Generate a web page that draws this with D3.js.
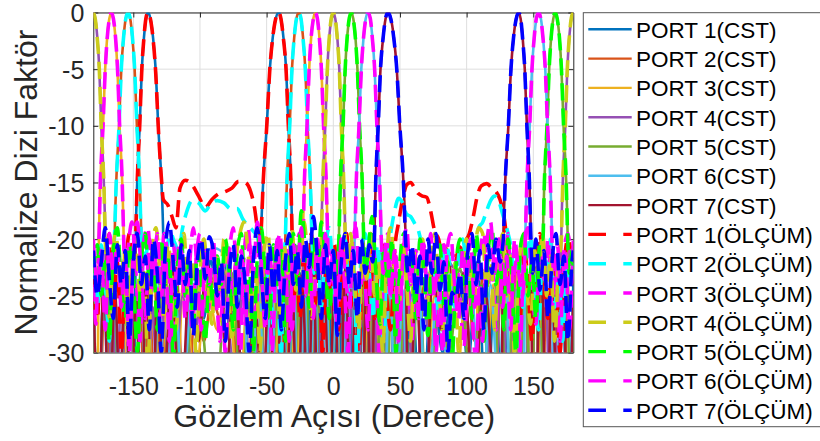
<!DOCTYPE html>
<html><head><meta charset="utf-8">
<script src="https://cdn.jsdelivr.net/npm/d3@7/dist/d3.min.js"></script>
<style>
body{margin:0;background:#fff}
svg{display:block}
text{font-family:"Liberation Sans",Arial,Helvetica,sans-serif}
</style>
</head><body>
<svg id="chart" width="820" height="441"></svg>
<script>
const xTicks = [-150,-100,-50,0,50,100,150];
const yTicks = [0,-5,-10,-15,-20,-25,-30];
const portNames = ["PORT 1","PORT 2","PORT 3","PORT 4","PORT 5","PORT 6","PORT 7"];
const cstColors = ["#0072BD","#D95319","#EDB120","#9650B4","#77AC30","#4DBEEE","#A2142F"];
const measColors = ["#FF0000","#00FFFF","#FF00FF","#CCCC1A","#00FF00","#FF00FF","#0000FF"];

const cst1 = [[-180,-24],[-176,-37],[-172,-22.5],[-168,-35],[-164,-25],[-160,-40],[-156,-23],[-149.8,-40],[-148.2,-20],[-147.1,-15],[-145.2,-10],[-143.6,-5],[-142,-2.2],[-140.5,-0.55],[-139,0],[-137.1,-0.55],[-135.2,-2.2],[-133.25,-5],[-131.3,-10],[-128.9,-15],[-127.5,-20],[-125.5,-40],[-120,-24],[-113,-36],[-105,-22.5],[-97,-27],[-92,-21.8],[-87,-25],[-82,-22],[-75,-34],[-68,-24],[-62,-38],[-56.5,-40],[-54.2,-20],[-52.6,-15],[-49.9,-10],[-47.6,-5],[-45.4,-2.2],[-43.2,-0.55],[-41,0],[-39.2,-0.55],[-37.4,-2.2],[-35.4,-5],[-33.7,-10],[-31.8,-15],[-30.8,-20],[-29,-40],[-25,-23],[-21,-37],[-17,-22],[-13,-35],[-9,-24.5],[-5,-39],[-1,-23],[3,-36],[7,-25],[11,-40],[15,-22.5],[19,-34],[23,-24],[27,-38],[31,-23],[35,-35],[39,-25.5],[43,-40],[48,-23],[53,-36],[59,-24.5],[66,-39],[74,-23],[82,-30],[89,-24.5],[95,-24.5],[101,-31],[108,-22],[115,-37],[121,-24],[127,-35],[132,-22.5],[136,-39],[140,-24],[144,-34],[148,-23],[152,-38],[156,-25],[160,-36],[164,-22.5],[168,-40],[172,-24],[176,-35],[180,-24]];
const cst2 = [[-180,-24],[-176,-38],[-171,-23],[-165.7,-40],[-164,-20],[-162.8,-15],[-160.7,-10],[-159,-5],[-157.3,-2.2],[-155.7,-0.55],[-154,0],[-152.3,-0.55],[-150.7,-2.2],[-149,-5],[-147.3,-10],[-145.2,-15],[-144,-20],[-142.3,-40],[-138,-23],[-134,-37],[-129,-25],[-124,-35],[-118,-22.5],[-111,-38],[-103,-25.5],[-97,-29],[-91,-25],[-85,-27],[-78,-22],[-70,-36],[-63,-24],[-57,-39],[-52,-23],[-47,-34],[-42,-24.5],[-37.7,-40],[-36,-20],[-34.8,-15],[-32.7,-10],[-31,-5],[-29.3,-2.2],[-27.7,-0.55],[-26,0],[-24.3,-0.55],[-22.7,-2.2],[-21,-5],[-19.3,-10],[-17.2,-15],[-16,-20],[-14.3,-40],[-10,-23],[-6,-38],[-2,-22.5],[2,-35],[6,-24],[10,-40],[14,-22],[18,-36],[22,-25],[26,-39],[30,-23.5],[34,-34],[38,-24],[42,-37],[46.5,-22.5],[51,-35],[56,-25],[62,-38],[68,-24],[75,-30],[82,-20.5],[90,-21.5],[98,-20.8],[106,-29],[113,-23],[120,-37],[126,-24.5],[131,-35],[136,-23],[140,-40],[144,-24],[148,-36],[152,-22.5],[156,-38],[160,-25],[164,-34],[168,-23],[172,-39],[176,-24],[180,-24]];
const cst3 = [[-180,-25],[-177.4,-40],[-175.8,-20],[-174.7,-15],[-172.7,-10],[-171.1,-5],[-169.6,-2.2],[-168,-0.55],[-166.5,0],[-165,-0.55],[-163.4,-2.2],[-161.9,-5],[-160.3,-10],[-158.3,-15],[-157.2,-20],[-155.6,-40],[-152,-23],[-148,-36],[-144,-24],[-139.5,-39],[-135,-22.5],[-130,-34],[-125,-25],[-119,-38],[-112,-23],[-104,-33],[-95,-24],[-87,-28],[-79,-22.5],[-71,-36],[-64,-24.5],[-58,-40],[-53,-23],[-48,-34],[-44,-25],[-40,-37],[-36,-22],[-32,-35],[-28,-24],[-24.4,-40],[-22.8,-20],[-21.7,-15],[-19.7,-10],[-18.1,-5],[-16.6,-2.2],[-15,-0.55],[-13.5,0],[-12,-0.55],[-10.4,-2.2],[-8.9,-5],[-7.3,-10],[-5.3,-15],[-4.2,-20],[-2.6,-40],[2,-23],[6,-38],[10,-22.5],[14,-36],[18,-24],[22,-40],[26,-22],[30,-35],[34,-25],[38,-38],[42,-23.5],[46.5,-34],[51,-24],[56,-39],[62,-22.5],[69,-33],[76,-25],[83,-28],[90,-38],[97,-27],[105,-22.5],[113,-35],[120,-24],[126,-37],[131,-23],[136,-34],[140,-25.5],[144,-40],[148,-23],[152,-36],[156,-24.5],[160,-38],[164,-22],[168,-35],[172,-24],[176,-39],[180,-25]];
const cst4 = [[-180,0],[-178.5,-0.55],[-177,-2.2],[-175.5,-5],[-174,-10],[-172.1,-15],[-171,-20],[-169.5,-40],[-166,-24],[-162.5,-38],[-159,-23],[-155.5,-36],[-152,-25],[-148,-40],[-144,-22.5],[-140,-35],[-135.5,-26],[-131,-38],[-126,-23],[-120,-34],[-113,-25],[-106,-31],[-97,-22],[-90,-23.5],[-83,-22.5],[-74,-32],[-67,-24],[-61,-37],[-55.5,-23],[-50.5,-35],[-46,-25.5],[-42,-40],[-38,-22],[-34,-36],[-30,-24],[-26,-38],[-22,-21.5],[-18,-34],[-14,-22.5],[-10.5,-40],[-9,-20],[-7.9,-15],[-6,-10],[-4.5,-5],[-3,-2.2],[-1.5,-0.55],[0,0],[1.5,-0.55],[3,-2.2],[4.5,-5],[6,-10],[7.9,-15],[9,-20],[10.5,-40],[14,-23],[18,-36],[22,-22],[26,-41],[30,-24.5],[34,-35],[38,-23],[42,-38],[46,-24],[50.5,-34],[55.5,-22.5],[61,-39],[67,-25],[74,-31],[83,-21.5],[90,-22.5],[97,-23],[106,-33],[113,-24],[120,-37],[126,-22.5],[131,-34],[135.5,-25],[140,-39],[144,-23],[148,-35],[152,-24],[155.5,-40],[159,-22.5],[162.5,-36],[166,-25],[169.5,-40],[171,-20],[172.1,-15],[174,-10],[175.5,-5],[177,-2.2],[178.5,-0.55],[180,0]];
const cst5 = [[-180,-27],[-176,-38],[-172,-23],[-168,-35],[-164,-24.5],[-160,-40],[-156,-22],[-152,-33],[-148,-25],[-144,-38],[-140,-23.5],[-136,-36],[-131,-26],[-126,-34],[-120,-22.5],[-113,-37],[-105,-24],[-97,-29],[-90,-40],[-83,-27],[-76,-23],[-69,-34],[-62,-24],[-56,-38],[-51,-22.5],[-46.5,-35],[-42,-25],[-38,-40],[-34,-23],[-30,-36],[-26,-24],[-22,-39],[-18,-22],[-14,-35],[-10,-23.5],[-6,-37],[-2,-22],[2.6,-40],[4.2,-20],[5.3,-15],[7.3,-10],[8.9,-5],[10.4,-2.2],[12,-0.55],[13.5,0],[15,-0.55],[16.6,-2.2],[18.1,-5],[19.7,-10],[21.7,-15],[22.8,-20],[24.4,-40],[28,-23],[32,-37],[36,-24],[40,-35],[44,-22.5],[48,-39],[53,-25],[58,-34],[64,-23],[71,-38],[79,-24.5],[87,-30],[95,-22.5],[104,-35],[112,-24],[119,-40],[125,-23],[130,-36],[135,-25],[139.5,-38],[144,-22.5],[148,-35],[152,-24],[155.6,-40],[157.2,-20],[158.3,-15],[160.3,-10],[161.9,-5],[163.4,-2.2],[165,-0.55],[166.5,0],[168,-0.55],[169.6,-2.2],[171.1,-5],[172.7,-10],[174.7,-15],[175.8,-20],[177.4,-40],[180,-27]];
const cst6 = [[-180,-25],[-176,-37],[-172,-23],[-168,-39],[-164,-24.5],[-160,-35],[-156,-22.5],[-152,-38],[-148,-25],[-144,-34],[-140,-23],[-136,-40],[-131,-24],[-126,-36],[-120,-22.5],[-113,-33],[-105,-23],[-97,-21.2],[-89,-20.8],[-81,-21.5],[-74,-27],[-68,-22.5],[-62,-37],[-56,-24],[-51,-35],[-46.5,-23],[-42,-39],[-38,-25],[-34,-34],[-30,-22.5],[-26,-38],[-22,-24],[-18,-36],[-14,-23],[-10,-40],[-6,-22],[-2,-35],[2,-24.5],[6,-38],[10,-23],[14.3,-40],[16,-20],[17.2,-15],[19.3,-10],[21,-5],[22.7,-2.2],[24.3,-0.55],[26,0],[27.7,-0.55],[29.3,-2.2],[31,-5],[32.7,-10],[34.8,-15],[36,-20],[37.7,-40],[42,-23],[47,-36],[52,-24.5],[57,-38],[63,-22.5],[70,-35],[78,-25],[85,-30],[91,-23],[97,-27],[103,-23.5],[111,-37],[118,-24],[124,-34],[129,-22.5],[134,-39],[138,-24],[142.3,-40],[144,-20],[145.2,-15],[147.3,-10],[149,-5],[150.7,-2.2],[152.3,-0.55],[154,0],[155.7,-0.55],[157.3,-2.2],[159,-5],[160.7,-10],[162.8,-15],[164,-20],[165.7,-40],[171,-24],[176,-37],[180,-25]];
const cst7 = [[-180,-25],[-176,-36],[-172,-23],[-168,-39],[-164,-24],[-160,-34],[-156,-22.5],[-152,-38],[-148,-25],[-144,-35],[-140,-23],[-136,-40],[-132,-24.5],[-127,-33],[-121,-22.5],[-115,-38],[-108,-24],[-101,-29],[-95,-22],[-90,-24],[-85,-22.5],[-80,-31],[-74,-23.5],[-66,-37],[-59,-25],[-53,-35],[-48,-22.5],[-43,-40],[-39,-24],[-35,-34],[-31,-23],[-27,-38],[-23,-24.5],[-19,-36],[-15,-22],[-11,-40],[-7,-23.5],[-3,-35],[1,-24],[5,-37],[9,-22.5],[13,-34],[17,-25],[21,-39],[25,-23],[29,-40],[30.8,-20],[31.8,-15],[33.7,-10],[35.4,-5],[37.4,-2.2],[39.2,-0.55],[41,0],[43.2,-0.55],[45.4,-2.2],[47.6,-5],[49.9,-10],[52.6,-15],[54.2,-20],[56.5,-40],[62,-24],[68,-37],[75,-23],[81,-28],[86,-21.8],[92,-26],[98,-23],[105,-35],[113,-24],[125.5,-40],[127.5,-20],[128.9,-15],[131.3,-10],[133.25,-5],[135.2,-2.2],[137.1,-0.55],[139,0],[140.5,-0.55],[142,-2.2],[143.6,-5],[145.2,-10],[147.1,-15],[148.2,-20],[149.8,-40],[156,-23],[160,-37],[164,-24],[168,-35],[172,-22.5],[176,-38],[180,-25]];

const meas1 = [[-180,-23],[-177,-27],[-174,-21],[-171,-24.5],[-168,-19.5],[-165,-26],[-162,-22],[-159,-30],[-156,-23],[-153,-19.5],[-150.5,-22],[-148.5,-20.5],[-147.1,-15],[-145.2,-10],[-143.6,-5],[-142,-2.2],[-140.5,-0.5],[-139,0],[-137.1,-0.6],[-135.2,-2.3],[-133.25,-5.2],[-131.3,-10],[-129,-14.5],[-127.5,-16.5],[-124,-17],[-121,-18],[-118,-19],[-115,-15.5],[-111,-14.8],[-106,-15.2],[-101,-16.2],[-96,-17.2],[-91,-16.5],[-86,-16],[-81,-15.8],[-76,-15.5],[-71,-14.9],[-66,-15],[-62,-15.8],[-59,-17.3],[-56.5,-19.5],[-55,-20.5],[-54,-19],[-52.6,-15],[-49.9,-10],[-47.6,-5],[-45.4,-2.2],[-43.2,-0.55],[-41,0],[-39.2,-0.6],[-37.4,-2.3],[-35.4,-5.1],[-33.7,-10],[-31.8,-15],[-30.8,-20],[-29.5,-25],[-27.5,-22],[-25,-27],[-22,-21],[-19,-24],[-16.5,-19.5],[-14,-26],[-11,-22],[-8,-30],[-5,-21.5],[-2,-25],[1,-20.5],[4,-28],[7,-22.5],[10,-19.5],[13,-26],[16,-23],[19,-31],[22,-21],[25,-24.5],[28,-19.5],[31,-27],[34,-22],[37,-20.5],[40,-25],[43,-28],[46,-21],[49,-18.5],[52,-16.5],[55,-15.2],[58,-15],[61,-15.5],[64,-16],[67,-16.2],[70,-16.3],[73,-17.5],[76,-19.3],[79,-20],[82,-22],[86,-24],[90,-23],[94,-21],[98,-20.3],[102,-19.5],[105,-18],[108,-16.2],[111,-15.3],[115,-15.1],[119,-15.5],[122,-15.8],[125,-16.5],[128,-18],[131,-21],[134,-25],[137,-22],[140,-27],[143,-20.5],[146,-24],[149,-29],[152,-22],[155,-19.5],[158,-24],[161,-27],[164,-21],[167,-23.5],[170,-30],[173,-22.5],[176,-20],[180,-23]];
const meas2 = [[-180,-22],[-177,-26],[-174,-20.5],[-171,-24],[-168,-29],[-166,-21],[-164.5,-20.5],[-162.8,-15],[-160.7,-10],[-159,-5],[-157.3,-2.2],[-155.7,-0.6],[-154,0],[-152.3,-0.5],[-150.7,-2.1],[-149,-5],[-147.3,-10],[-145.2,-15],[-144,-20],[-141,-21.5],[-138,-20],[-135,-20.8],[-132,-22],[-128,-24],[-125,-21],[-122,-19.5],[-119,-20.3],[-116,-21],[-113,-19],[-110,-17.6],[-106,-16.6],[-101,-16.8],[-96,-17.5],[-92,-16.9],[-87,-16.6],[-82,-16.8],[-77,-17.3],[-72,-17.3],[-68,-18.2],[-64,-18.8],[-60,-19.3],[-57,-19.8],[-54,-21.5],[-51,-25],[-48,-22],[-45,-28],[-42,-23],[-39,-31],[-37.5,-22],[-36,-20],[-34.8,-15],[-32.7,-10],[-31,-5],[-29.3,-2.2],[-27.7,-0.6],[-26,0],[-24.3,-0.5],[-22.7,-2.3],[-21,-5],[-19.3,-10],[-17.2,-15],[-16,-20],[-14.5,-23],[-12,-20],[-9,-26],[-6,-21],[-3,-19],[0,-24],[3,-28],[6,-21.5],[9,-20],[12,-25],[15,-22],[18,-31],[21,-21],[24,-19.5],[27,-23],[30,-27],[33,-20.5],[36,-24],[38,-29],[40,-22],[43,-19.5],[46,-17.5],[49,-16.4],[52,-16.8],[55,-17.8],[58,-18],[61,-18.6],[64,-19.3],[67,-21],[70,-24],[73,-21.5],[76,-23],[79,-27],[82,-22],[85,-20.5],[88,-23],[91,-26],[94,-21.5],[97,-20],[100,-22.5],[103,-25],[106,-21],[109,-19],[112,-18.5],[115,-17.5],[118,-16.6],[121,-16.2],[124,-16.6],[127,-17.8],[130,-19],[133,-20.5],[136,-23],[139,-21],[142,-26],[145,-22],[148,-19.8],[151,-24],[154,-28],[157,-21],[160,-23.5],[163,-20],[166,-26],[169,-22],[172,-29],[175,-21.5],[178,-24],[180,-22]];
const meas3 = [[-180,-24],[-178,-27.5],[-176.5,-22],[-175.8,-20],[-174.7,-15],[-172.7,-10],[-171.1,-5.2],[-169.6,-2.3],[-168,-0.6],[-166.5,0],[-165,-0.5],[-163.4,-2.1],[-161.9,-4.8],[-160.3,-9.8],[-158.3,-15],[-157.2,-20],[-156,-24],[-154,-21],[-151,-18.5],[-148,-23],[-145,-29],[-142,-20],[-139,-19],[-136,-24.5],[-133,-21.5],[-130,-27],[-127,-19.5],[-124,-22],[-121,-30],[-118,-23.5],[-115,-20],[-112,-25],[-109,-21.5],[-106,-28],[-103,-22],[-100,-19.5],[-97,-23],[-94,-26.5],[-91,-21],[-88,-24],[-85,-29],[-82,-22],[-79,-20.5],[-76,-25],[-73,-22],[-70,-31],[-67,-21.5],[-64,-19],[-61,-23.5],[-58,-27],[-55,-20],[-52,-24],[-49,-21],[-46,-30],[-43,-22.5],[-40,-19.5],[-37,-25],[-34,-21],[-31,-28],[-28,-22],[-25.5,-19.5],[-24,-20.5],[-22.8,-20],[-21.7,-15],[-19.7,-10],[-18.1,-5],[-16.6,-2.2],[-15,-0.6],[-13.5,0],[-12,-0.5],[-10.4,-2.3],[-8.9,-5.1],[-7.3,-10],[-5.3,-15],[-4.2,-20],[-3,-24],[-1,-21],[2,-27],[5,-20.5],[8,-23],[11,-30],[14,-21],[17,-19],[20,-24.5],[23,-22],[26,-28],[29,-20.5],[32,-23],[35,-31],[38,-22],[41,-19.5],[44,-25],[47,-21.5],[50,-27],[53,-20],[56,-23.5],[59,-29],[62,-21],[65,-24],[68,-20.5],[71,-26.5],[74,-22],[77,-30],[80,-23],[83,-20.5],[86,-24.5],[89,-27],[92,-22],[95,-25],[98,-29.5],[101,-24],[104,-26.5],[107,-31],[110,-21.5],[113,-19.5],[116,-24],[119,-22],[122,-28],[125,-20],[128,-23.5],[131,-19.5],[134,-25],[137,-22],[140,-30],[143,-21],[146,-19],[149,-24],[152,-27.5],[155,-21],[158,-23.5],[161,-20],[164,-26],[167,-22.5],[170,-29],[173,-21],[176,-19.5],[179,-23],[180,-24]];
const meas4 = [[-180,0],[-178.5,-0.6],[-177,-2.3],[-175.5,-5],[-174,-10.2],[-172.1,-15],[-171,-20],[-170,-23],[-168,-27],[-165.5,-21],[-163,-19.5],[-160,-24],[-157,-21.5],[-154,-29],[-151,-22],[-148,-20],[-145,-25],[-142,-22.5],[-139,-31],[-136,-21],[-133,-19],[-130,-23],[-127,-27],[-124,-20.5],[-121,-23.5],[-118,-28],[-115,-21.5],[-112,-19.5],[-109,-25],[-106,-22],[-103,-30],[-100,-23],[-97,-20],[-94,-24],[-91,-27.5],[-88,-21.5],[-85,-24.5],[-82,-20],[-79,-23],[-76,-29],[-73,-22],[-70,-19.5],[-67,-18.5],[-64,-21],[-61,-26],[-58,-22.5],[-55,-30],[-52,-21],[-49,-19.5],[-46,-24],[-43,-21],[-40,-27],[-37,-20.5],[-34,-23],[-31,-19],[-28,-24.5],[-25,-21.5],[-22,-18.5],[-19,-22],[-16,-27],[-13,-20.5],[-11,-23],[-9,-20],[-7.9,-15],[-6,-10],[-4.5,-5.1],[-3,-2.2],[-1.5,-0.5],[0,0],[1.5,-0.6],[3,-2.3],[4.5,-5],[6,-10],[7.9,-15.2],[9,-20],[10.5,-23.5],[13,-19.5],[16,-24],[19,-28],[22,-21],[25,-23.5],[28,-19.5],[31,-25],[34,-22],[37,-30],[40,-21.5],[43,-19],[46,-23],[49,-27],[52,-20.5],[55,-24],[58,-29],[61,-21],[64,-23.5],[67,-20],[70,-26],[73,-22.5],[76,-19.5],[79,-24],[82,-28],[85,-21.5],[88,-25],[91,-22],[94,-30],[97,-22.5],[100,-20],[103,-24],[106,-21],[109,-19],[112,-19.5],[115,-24.5],[118,-21],[121,-28],[124,-22],[127,-19.5],[130,-25],[133,-21.5],[136,-30],[139,-22.5],[142,-20],[145,-24],[148,-27.5],[151,-21],[154,-23],[157,-19.5],[160,-25],[163,-21.5],[166,-29],[169,-22],[171,-20],[172.1,-15],[174,-10],[175.5,-5],[177,-2.2],[178.5,-0.5],[180,0]];
const meas5 = [[-180,-23],[-177,-20.5],[-174,-25],[-171,-22],[-168,-29],[-165,-21],[-162,-19],[-159,-24],[-156,-27],[-153,-20.5],[-150,-23],[-147,-30],[-144,-22],[-141,-19.5],[-138,-23.5],[-135,-21],[-132,-28],[-129,-20],[-126,-24],[-123,-21.5],[-120,-31],[-117,-22.5],[-114,-20],[-111,-25],[-108,-22],[-105,-27.5],[-102,-21],[-99,-24.5],[-96,-29],[-93,-23],[-90,-26],[-87,-21.5],[-84,-24],[-81,-20],[-78,-23],[-75,-28],[-72,-21],[-69,-19.5],[-66,-25],[-63,-22],[-60,-30],[-57,-21.5],[-54,-19],[-51,-23.5],[-48,-27],[-45,-20.5],[-42,-24],[-39,-21],[-36,-29],[-33,-22],[-30,-19.5],[-27,-24],[-24,-17.5],[-21,-21],[-18,-26],[-15,-20],[-12,-23],[-9,-18.5],[-6,-22],[-3,-27],[0,-21],[2.5,-23],[4.2,-20],[5.3,-15],[7.3,-10],[8.9,-5],[10.4,-2.2],[12,-0.5],[13.5,0],[15,-0.6],[16.6,-2.3],[18.1,-5.1],[19.7,-10],[21.7,-15],[22.8,-20],[24,-23],[26.5,-20.5],[29,-18],[32,-23],[35,-27.5],[38,-21],[41,-24],[44,-20],[47,-30],[50,-22],[53,-19.5],[56,-24.5],[59,-21.5],[62,-27],[65,-20],[68,-23],[71,-28.5],[74,-21],[77,-24.5],[80,-20.5],[83,-26],[86,-22],[89,-31],[92,-22.5],[95,-20],[98,-24],[101,-21],[104,-27],[107,-19.5],[110,-23],[113,-29],[116,-21.5],[119,-19],[122,-24],[125,-21],[128,-28],[131,-20],[134,-23.5],[137,-30],[140,-21],[143,-19.5],[146,-25],[149,-22],[152,-27],[155,-20],[157.2,-20],[158.3,-15],[160.3,-10],[161.9,-5],[163.4,-2.2],[165,-0.5],[166.5,0],[168,-0.6],[169.6,-2.2],[171.1,-5],[172.7,-10],[174.7,-15],[175.8,-20],[177,-23],[179,-21],[180,-23]];
const meas6 = [[-180,-20],[-177,-24],[-174,-21],[-171,-28],[-168,-19.5],[-165,-23],[-162,-20.5],[-159,-26],[-156,-22],[-153,-30],[-150,-21],[-147,-18.5],[-144,-23],[-141,-27],[-138,-20],[-135,-23.5],[-132,-19.5],[-129,-25],[-126,-21.5],[-123,-29],[-120,-20.5],[-117,-24],[-114,-21],[-111,-27],[-108,-22.5],[-105,-19],[-102,-23],[-99,-28],[-96,-21],[-93,-24],[-90,-20],[-87,-26.5],[-84,-22],[-81,-30],[-78,-21.5],[-75,-19],[-72,-24],[-69,-21],[-66,-27.5],[-63,-20.5],[-60,-23],[-57,-18.5],[-54,-22],[-51,-28],[-48,-21],[-45,-24.5],[-42,-20],[-39,-25],[-36,-22],[-33,-29],[-30,-20.5],[-27,-23],[-24,-19],[-21,-25],[-18,-21.5],[-15,-27],[-12,-20],[-9,-23],[-6,-19.5],[-3,-24],[0,-21],[3,-28],[6,-20],[9,-23],[12,-26],[14.5,-21],[16,-20],[17.2,-15],[19.3,-10],[21,-5.1],[22.7,-2.2],[24.3,-0.6],[26,0],[27.7,-0.5],[29.3,-2.3],[31,-5],[32.7,-10],[34.8,-15],[36,-20],[37.5,-23],[40,-20.5],[43,-25],[46,-21],[49,-29],[52,-22],[55,-19],[58,-24],[61,-21.5],[64,-27],[67,-20],[70,-23.5],[73,-19.5],[76,-25],[79,-22],[82,-30],[85,-21.5],[88,-19.5],[91,-24],[94,-27],[97,-21],[100,-23.5],[103,-20],[106,-26],[109,-22],[112,-29],[115,-20.5],[118,-18.5],[121,-23],[124,-20],[127,-26],[130,-21.5],[133,-28],[136,-20],[139,-23],[142,-25],[144,-20],[145.2,-15],[147.3,-10],[149,-5],[150.7,-2.2],[152.3,-0.5],[154,0],[155.7,-0.6],[157.3,-2.3],[159,-5],[160.7,-10],[162.8,-15],[164,-20],[165.5,-23],[168,-20.5],[171,-25],[174,-21],[177,-28],[180,-20]];
const meas7 = [[-180,-21],[-177,-25],[-174,-22],[-171,-19],[-168,-23.5],[-165,-27],[-162,-20.5],[-159,-24],[-156,-21],[-153,-29],[-150,-22],[-147,-19.5],[-144,-24],[-141,-21.5],[-138,-28],[-135,-20],[-132,-23],[-129,-30],[-126,-21],[-123,-18.5],[-120,-22],[-117,-26],[-114,-20.5],[-111,-24],[-108,-21],[-105,-28.5],[-102,-22],[-99,-20],[-96,-23.5],[-93,-19.8],[-90,-21],[-87,-25],[-84,-22],[-81,-29],[-78,-23],[-75,-20.5],[-72,-26],[-69,-21.5],[-66,-24],[-63,-30],[-60,-22],[-57,-19],[-54,-23],[-51,-27],[-48,-20.5],[-45,-24.5],[-42,-21],[-39,-28],[-36,-22],[-33,-19.5],[-30,-24],[-27,-21],[-24,-26],[-21,-20],[-18,-22.5],[-15,-18],[-12,-21.5],[-9,-27],[-6,-20.5],[-3,-24],[0,-21],[3,-28.5],[6,-22],[9,-19.5],[12,-24],[15,-21],[18,-27],[21,-20],[24,-23],[27,-20.5],[29.5,-22],[30.8,-20],[31.8,-15],[33.7,-10],[35.4,-5],[37.4,-2.2],[39.2,-0.5],[41,0],[43.2,-0.6],[45.4,-2.3],[47.6,-5],[49.9,-10],[52.6,-15],[54.2,-20],[56,-23],[59,-20.5],[62,-25],[65,-21.5],[68,-28],[71,-20],[74,-23],[77,-19.5],[80,-24.5],[83,-22],[86,-30],[89,-24.7],[92,-25.2],[95,-23],[98,-27],[101,-21],[104,-19.5],[107,-24],[110,-21],[113,-28],[116,-20.5],[119,-23],[122,-20],[125,-22],[127.5,-20],[128.9,-15],[131.3,-10],[133.25,-5],[135.2,-2.2],[137.1,-0.6],[139,0],[140.5,-0.5],[142,-2.3],[143.6,-5],[145.2,-10],[147.1,-15],[148.2,-20],[149.5,-23],[152,-20],[155,-24.5],[158,-21],[161,-27],[164,-22],[167,-19.5],[170,-24],[173,-21.5],[176,-29],[179,-22],[180,-21]];

const cstSeries = [cst1,cst2,cst3,cst4,cst5,cst6,cst7];
const measSeries = [meas1,meas2,meas3,meas4,meas5,meas6,meas7];

const L = 93.3, R = 573.3, T = 12.5, B = 352.5;
const svg = d3.select("#chart");
const x = d3.scaleLinear().domain([-180,180]).range([L,R]);
const y = d3.scaleLinear().domain([-30,0]).range([B,T]);
const ink = "#262626";

// grid
const grid = svg.append("g");
grid.selectAll("line.gx").data(xTicks).enter().append("line")
  .attr("x1",d=>x(d)).attr("x2",d=>x(d)).attr("y1",T).attr("y2",B)
  .attr("stroke","#DEDEDE").attr("stroke-width",1);
grid.selectAll("line.gy").data(yTicks).enter().append("line")
  .attr("x1",L).attr("x2",R).attr("y1",d=>y(d)).attr("y2",d=>y(d))
  .attr("stroke","#DEDEDE").attr("stroke-width",1);

// axes
const fmt = d => String(d);
function styleAxis(g){
  g.select(".domain").attr("stroke",ink).attr("stroke-width",1);
  g.selectAll(".tick line").attr("stroke",ink).attr("stroke-width",1);
  g.selectAll("text").attr("fill",ink).style("font-size","25px");
}
const gB = svg.append("g").attr("transform",`translate(0,${B})`)
  .call(d3.axisBottom(x).tickValues(xTicks).tickFormat(fmt).tickSizeInner(-5).tickSizeOuter(0));
styleAxis(gB);
gB.selectAll("text").attr("y",42.5).attr("dy",null);
const gT = svg.append("g").attr("transform",`translate(0,${T})`)
  .call(d3.axisTop(x).tickValues(xTicks).tickFormat("").tickSizeInner(-5).tickSizeOuter(0));
styleAxis(gT);
const gL = svg.append("g").attr("transform",`translate(${L},0)`)
  .call(d3.axisLeft(y).tickValues(yTicks).tickFormat(fmt).tickSizeInner(-5).tickSizeOuter(0));
styleAxis(gL);
gL.selectAll("text").attr("x",-9).attr("dy","0.36em");
const gR = svg.append("g").attr("transform",`translate(${R},0)`)
  .call(d3.axisRight(y).tickValues(yTicks).tickFormat("").tickSizeInner(-5).tickSizeOuter(0));
styleAxis(gR);

// clip
svg.append("clipPath").attr("id","plotclip").append("rect")
  .attr("x",L).attr("y",T).attr("width",R-L).attr("height",B-T);

const line = d3.line().x(d=>x(d[0])).y(d=>y(d[1])).curve(d3.curveMonotoneX);
const plot = svg.append("g").attr("clip-path","url(#plotclip)");
cstSeries.forEach((s,i)=>{
  plot.append("path").attr("d",line(s)).attr("fill","none")
    .attr("stroke",cstColors[i]).attr("stroke-width",2.6).attr("stroke-linejoin","round");
});
measSeries.forEach((s,i)=>{
  plot.append("path").attr("d",line(s)).attr("fill","none")
    .attr("stroke",measColors[i]).attr("stroke-width",3.6)
    .attr("stroke-dasharray","17,8").attr("stroke-linejoin","round");
});

// axis titles
svg.append("text").attr("x",(L+R)/2+1).attr("y",427).attr("text-anchor","middle")
  .attr("fill",ink).style("font-size","32px").text("Gözlem Açısı (Derece)");
svg.append("text").attr("transform",`translate(37,${(T+B)/2}) rotate(-90)`)
  .attr("text-anchor","middle").attr("fill",ink).style("font-size","32px").text("Normalize Dizi Faktör");

// legend
const lg = svg.append("g");
lg.append("rect").attr("x",583.3).attr("y",12.7).attr("width",250).attr("height",414)
  .attr("fill","#fff").attr("stroke","#555").attr("stroke-width",1);
const entries = [];
portNames.forEach((p,i)=>entries.push({label:p+"(CST)",color:cstColors[i],dash:null,w:2.4}));
portNames.forEach((p,i)=>entries.push({label:p+"(ÖLÇÜM)",color:measColors[i],dash:"17.7,17.3",w:3.4}));
entries.forEach((e,i)=>{
  const yy = 29.3 + i*29.3;
  const ln = lg.append("line").attr("x1",588.3).attr("x2",631.7).attr("y1",yy).attr("y2",yy)
    .attr("stroke",e.color).attr("stroke-width",e.w);
  if(e.dash) ln.attr("stroke-dasharray",e.dash);
  lg.append("text").attr("x",636).attr("y",yy+8.5).attr("fill","#000")
    .style("font-size","22.5px").text(e.label);
});
</script>
</body></html>
